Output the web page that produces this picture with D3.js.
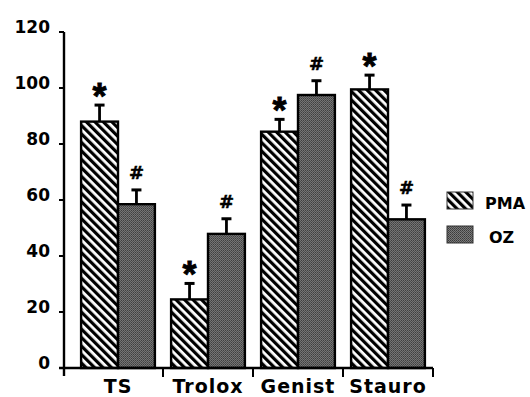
<!DOCTYPE html>
<html><head><meta charset="utf-8">
<script src="https://cdn.jsdelivr.net/npm/d3@7"></script>
<style>html,body{margin:0;padding:0;background:#fff;}svg{display:block;}</style>
</head><body>
<script>
const categories = ["TS", "Trolox", "Genist", "Stauro"];
const seriesNames = ["PMA", "OZ"];
const pmaValues = [88, 24.5, 84.4, 99.5];
const pmaErrors = [5.9, 5.7, 4.4, 5.1];
const ozValues = [58.5, 47.9, 97.5, 53.1];
const ozErrors = [5.1, 5.4, 5.1, 5.1];
const pmaMarks = ["*", "*", "*", "*"];
const ozMarks = ["#", "#", "#", "#"];
const yTicks = [0, 20, 40, 60, 80, 100, 120];

const W = 530, H = 397;
const svg = d3.select("body").append("svg").attr("width", W).attr("height", H);
const defs = svg.append("defs");
const hatch = defs.append("pattern").attr("id", "hatch").attr("patternUnits", "userSpaceOnUse")
  .attr("width", 6).attr("height", 10).attr("patternTransform", "rotate(-45)");
hatch.append("rect").attr("width", 6).attr("height", 10).attr("fill", "#fff");
hatch.append("rect").attr("width", 3.2).attr("height", 10).attr("fill", "#000");
const gray = defs.append("pattern").attr("id", "gray").attr("patternUnits", "userSpaceOnUse")
  .attr("width", 2).attr("height", 2);
gray.append("rect").attr("width", 2).attr("height", 2).attr("fill", "#7a7a7a");
gray.append("rect").attr("width", 1).attr("height", 1).attr("fill", "#3a3a3a");
gray.append("rect").attr("x", 1).attr("y", 1).attr("width", 1).attr("height", 1).attr("fill", "#4a4a4a");

const y = d3.scaleLinear().domain([0, 120]).range([368, 32]);
const x0 = d3.scaleBand().domain(categories).range([73, 433]).paddingInner(0.18).paddingOuter(0.09);
const x1 = d3.scaleBand().domain(seriesNames).range([0, x0.bandwidth()]);
const step = x0.step();
const boundary = c => x0(c) - x0.paddingInner() * step / 2;

const data = categories.map((c, i) => ({
  cat: c,
  items: [
    {s: "PMA", v: pmaValues[i], e: pmaErrors[i], m: pmaMarks[i]},
    {s: "OZ", v: ozValues[i], e: ozErrors[i], m: ozMarks[i]}
  ]
}));
const fillOf = s => s === "PMA" ? "url(#hatch)" : "url(#gray)";

const g = svg.append("g");
const groups = g.selectAll("g.grp").data(data).join("g").attr("transform", d => `translate(${x0(d.cat)},0)`);
groups.selectAll("rect").data(d => d.items).join("rect")
  .attr("x", d => x1(d.s)).attr("width", x1.bandwidth())
  .attr("y", d => y(d.v)).attr("height", d => y(0) - y(d.v))
  .attr("fill", d => fillOf(d.s)).attr("stroke", "#000").attr("stroke-width", 2.4);
groups.selectAll("line.err").data(d => d.items).join("line").attr("class", "err")
  .attr("x1", d => x1(d.s) + x1.bandwidth() / 2).attr("x2", d => x1(d.s) + x1.bandwidth() / 2)
  .attr("y1", d => y(d.v)).attr("y2", d => y(d.v + d.e)).attr("stroke", "#000").attr("stroke-width", 2.8);
groups.selectAll("line.cap").data(d => d.items).join("line").attr("class", "cap")
  .attr("x1", d => x1(d.s) + x1.bandwidth() / 2 - 5).attr("x2", d => x1(d.s) + x1.bandwidth() / 2 + 5)
  .attr("y1", d => y(d.v + d.e)).attr("y2", d => y(d.v + d.e)).attr("stroke", "#000").attr("stroke-width", 3);
groups.selectAll("text.mk").data(d => d.items).join("text").attr("class", "mk")
  .attr("x", d => x1(d.s) + x1.bandwidth() / 2)
  .attr("y", d => d.m === "*" ? y(d.v + d.e) + 4 : y(d.v + d.e) - 11)
  .attr("text-anchor", "middle")
  .attr("font-family", d => d.m === "*" ? "Liberation Sans" : "DejaVu Sans").attr("font-weight", "bold")
  .attr("font-size", d => d.m === "*" ? 36 : 18)
  .attr("stroke", "#000").attr("stroke-width", d => d.m === "*" ? 0.8 : 0.5)
  .text(d => d.m);

const ya = svg.append("g");
ya.append("line").attr("x1", 64).attr("x2", 64).attr("y1", y(120)).attr("y2", y(0) + 8).attr("stroke", "#000").attr("stroke-width", 2.4);
ya.selectAll("line.t").data(yTicks).join("line").attr("x1", 59).attr("x2", 64)
  .attr("y1", d => y(d)).attr("y2", d => y(d)).attr("stroke", "#000").attr("stroke-width", 2);
ya.selectAll("text").data(yTicks).join("text").attr("x", 50).attr("y", d => y(d) + 1)
  .attr("text-anchor", "end").attr("font-family", "DejaVu Sans").attr("font-weight", "bold").attr("font-size", 17)
  .text(d => d);

const xa = svg.append("g");
xa.append("line").attr("x1", 59).attr("x2", 433).attr("y1", y(0)).attr("y2", y(0)).attr("stroke", "#000").attr("stroke-width", 2.4);
const tickXs = categories.slice(1).map(boundary).concat([boundary(categories[3]) + step]);
xa.selectAll("line.t").data(tickXs).join("line").attr("x1", d => d).attr("x2", d => d)
  .attr("y1", y(0)).attr("y2", y(0) + 9).attr("stroke", "#000").attr("stroke-width", 2);
xa.selectAll("text").data(categories).join("text")
  .attr("x", d => boundary(d) + step / 2).attr("y", 393)
  .attr("text-anchor", "middle").attr("font-family", "DejaVu Sans").attr("font-weight", "bold")
  .attr("font-size", 19).attr("letter-spacing", 1).text(d => d);

const leg = svg.append("g");
seriesNames.forEach((s, i) => {
  const ly = 192 + i * 34;
  leg.append("rect").attr("x", 447).attr("y", ly).attr("width", 26).attr("height", 17)
    .attr("fill", fillOf(s)).attr("stroke", "#333").attr("stroke-width", 1);
  leg.append("text").attr("x", 485 + i * 4).attr("y", ly + 17).attr("font-family", "DejaVu Sans")
    .attr("font-weight", "bold").attr("font-size", 16).text(s);
});
</script>
</body></html>
